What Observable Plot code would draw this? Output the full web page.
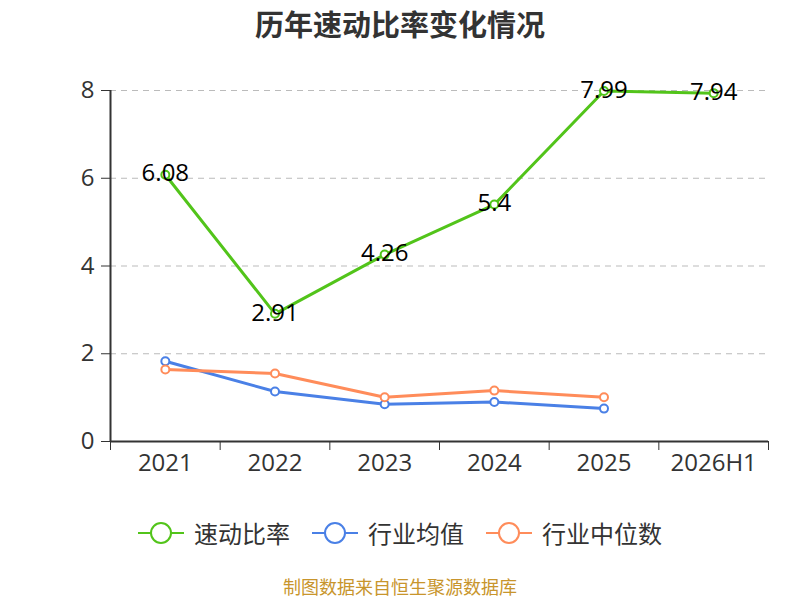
<!DOCTYPE html>
<html><head><meta charset="utf-8">
<script src="https://cdn.jsdelivr.net/npm/d3@7"></script>
<script src="https://cdn.jsdelivr.net/npm/@observablehq/plot@0.6"></script>
<style>
body{margin:0;background:#fff;font-family:"Open Sans","Noto Sans CJK SC",sans-serif;}
#wrap{width:800px;}
#title{height:45px;line-height:46px;text-align:center;font-size:29px;font-weight:bold;color:#333;font-family:"Noto Sans CJK SC",sans-serif;}
#legend{display:flex;justify-content:center;gap:22px;margin-top:20px;font-size:24px;color:#333;font-family:"Noto Sans CJK SC",sans-serif;}
#legend .it{display:flex;align-items:center;gap:10px;}
#caption{text-align:center;color:#c8952c;font-size:18px;margin-top:23px;font-family:"Noto Sans CJK SC",sans-serif;}
</style></head>
<body><div id="wrap"><div id="title">历年速动比率变化情况</div><div id="chart"></div><div id="legend"></div><div id="caption">制图数据来自恒生聚源数据库</div></div>
<script>
const categories = ["2021","2022","2023","2024","2025","2026H1"];
const quickRatio = [6.08, 2.91, 4.26, 5.4, 7.99, 7.94];
const industryMean = [1.83, 1.14, 0.85, 0.90, 0.75];
const industryMedian = [1.64, 1.55, 1.01, 1.16, 1.01];
const yTicks = [0, 2, 4, 6, 8];
const seriesNames = ["速动比率", "行业均值", "行业中位数"];
const colors = ["#52c41a", "#4a80e6", "#ff8c5a"];

const mk = (vals) => vals.map((v, i) => ({x: i + 0.5, y: v, label: String(v)}));
const s0 = mk(quickRatio), s1 = mk(industryMean), s2 = mk(industryMedian);
const edges = d3.range(categories.length + 1);

const chart = Plot.plot({
  width: 800, height: 450,
  marginLeft: 110, marginRight: 32, marginTop: 45, marginBottom: 54,
  x: {type: "linear", domain: [0, categories.length]},
  y: {domain: [0, 8]},
  style: {fontFamily: "'Open Sans', sans-serif", fontSize: "24px", color: "#333"},
  marks: [
    Plot.gridY(yTicks, {stroke: "#bbb", strokeOpacity: 1, strokeDasharray: "6,5", strokeWidth: 1.2}),
    Plot.axisY({ticks: yTicks, tickSize: 9, tickPadding: 7, fontSize: 24, label: null, stroke: "#333"}),
    Plot.ruleX([0], {stroke: "#333", strokeWidth: 2}),
    Plot.ruleY([0], {stroke: "#333", strokeWidth: 2}),
    Plot.axisX({ticks: edges, tickSize: 9, tickFormat: () => "", label: null, stroke: "#333"}),
    Plot.axisX({ticks: categories.map((c, i) => i + 0.5), tickSize: 0, tickPadding: 12, tickFormat: d => categories[Math.round(d - 0.5)], fontSize: 24, label: null}),
    Plot.line(s1, {x: "x", y: "y", stroke: colors[1], strokeWidth: 3}),
    Plot.dot(s1, {x: "x", y: "y", r: 4, stroke: colors[1], fill: "#fff", strokeWidth: 2}),
    Plot.line(s2, {x: "x", y: "y", stroke: colors[2], strokeWidth: 3}),
    Plot.dot(s2, {x: "x", y: "y", r: 4, stroke: colors[2], fill: "#fff", strokeWidth: 2}),
    Plot.line(s0, {x: "x", y: "y", stroke: colors[0], strokeWidth: 3}),
    Plot.dot(s0, {x: "x", y: "y", r: 4, stroke: colors[0], fill: "#fff", strokeWidth: 2}),
    Plot.text(s0, {x: "x", y: "y", text: "label", fill: "#000", fontSize: 24, dy: -1})
  ]
});
document.getElementById("chart").appendChild(chart);

const lg = document.getElementById("legend");
seriesNames.forEach((n, i) => {
  const d = document.createElement("div"); d.className = "it";
  d.innerHTML = `<svg width="46" height="24"><line x1="0" y1="12" x2="46" y2="12" stroke="${colors[i]}" stroke-width="2"/><circle cx="23" cy="12" r="10" fill="#fff" stroke="${colors[i]}" stroke-width="2"/></svg><span>${n}</span>`;
  lg.appendChild(d);
});
</script></body></html>
